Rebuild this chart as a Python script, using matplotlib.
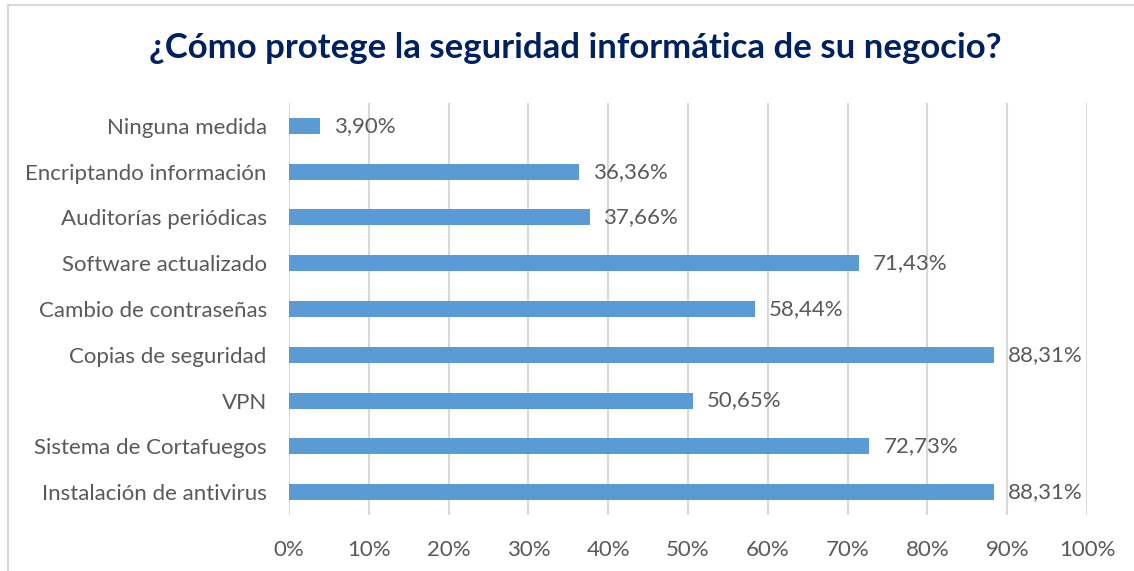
import matplotlib
matplotlib.use("Agg")
import matplotlib.pyplot as plt
from matplotlib.patches import Rectangle
from matplotlib.ticker import FuncFormatter

# Survey answers, listed bottom-to-top as drawn
categories = [
    "Instalación de antivirus",
    "Sistema de Cortafuegos",
    "VPN",
    "Copias de seguridad",
    "Cambio de contraseñas",
    "Software actualizado",
    "Auditorías periódicas",
    "Encriptando información",
    "Ninguna medida",
]
values = [88.31, 72.73, 50.65, 88.31, 58.44, 71.43, 37.66, 36.36, 3.90]
x_ticks = [0, 10, 20, 30, 40, 50, 60, 70, 80, 90, 100]
title = "¿Cómo protege la seguridad informática de su negocio?"

W, H = 1134, 571
plt.rcParams["font.family"] = ["Lato", "DejaVu Sans"]
text_color = "#595959"
bar_color = "#5B9BD5"
grid_color = "#D9D9D9"
label_size = 16

fig = plt.figure(figsize=(W / 100, H / 100), dpi=100)
fig.patch.set_facecolor("white")

# Light chart frame
fig.patches.append(Rectangle((8 / W, -0.2), 1.2, 1.2 - 5 / H,
                             transform=fig.transFigure, fill=False,
                             edgecolor=grid_color, linewidth=1.5))

ax = fig.add_axes([289 / W, 1 - 515 / H, (1087 - 289) / W, (515 - 103) / H])
pos = list(range(len(categories)))
ax.barh(pos, values, height=0.35, color=bar_color, zorder=3)

ax.set_xlim(0, 100)
ax.set_ylim(-0.5, len(categories) - 0.5)
ax.set_xticks(x_ticks)
ax.xaxis.set_major_formatter(FuncFormatter(lambda v, p: f"{int(v)}%"))
ax.set_yticks(pos)
ax.set_yticklabels(categories)

ax.grid(axis="x", color=grid_color, linewidth=1.5, zorder=0)
for s in ax.spines.values():
    s.set_visible(False)
ax.tick_params(axis="both", length=0, labelsize=label_size, labelcolor=text_color)
ax.tick_params(axis="x", pad=18)
ax.tick_params(axis="y", pad=16)

for y, v in zip(pos, values):
    ax.annotate(f"{v:.2f}%".replace(".", ","), xy=(v, y), xytext=(10, 0),
                textcoords="offset points", va="center", ha="left",
                fontsize=label_size, color=text_color, zorder=4)

fig.text(575 / W, 1 - 48 / H, title, ha="center", va="center",
         fontsize=25, fontweight="bold", color="#002060")

fig.savefig("out.png", dpi=100, facecolor="white")
